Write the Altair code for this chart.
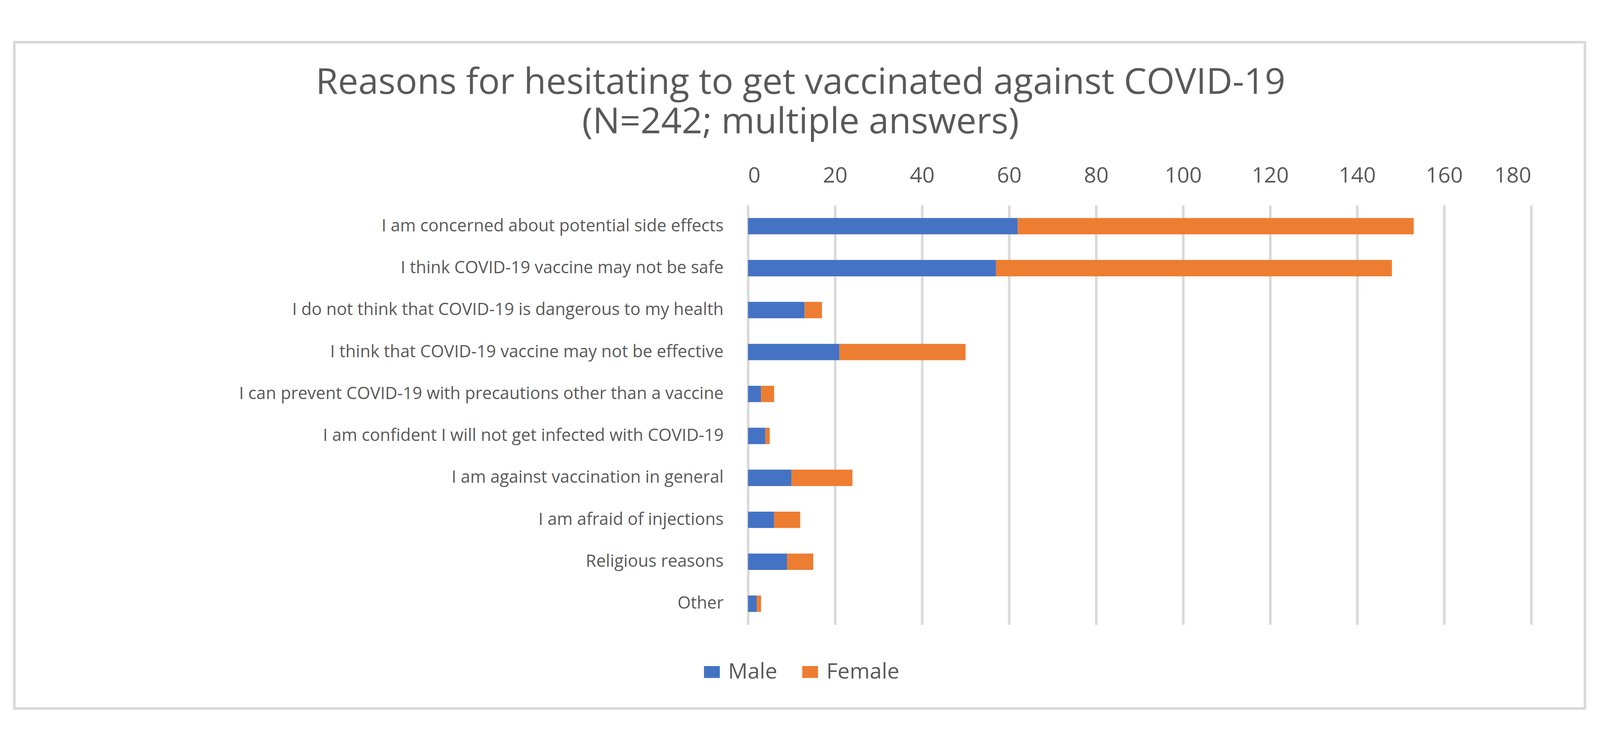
import altair as alt
import pandas as pd

reasons = [
    "I am concerned about potential side effects",
    "I think COVID-19 vaccine may not be safe",
    "I do not think that COVID-19 is dangerous to my health",
    "I think that COVID-19 vaccine may not be effective ",
    "I can prevent COVID-19 with precautions other than a vaccine",
    "I am confident I will not get infected with COVID-19",
    "I am against vaccination in general",
    "I am afraid of injections",
    "Religious reasons",
    "Other",
]
male = [62, 57, 13, 21, 3, 4, 10, 6, 9, 2]
female = [91, 91, 4, 29, 3, 1, 14, 6, 6, 1]
genders = ["Male", "Female"]
colors = ["#4472C4", "#ED7D31"]
x_ticks = [0, 20, 40, 60, 80, 100, 120, 140, 160, 180]

rows = []
for r, m, f in zip(reasons, male, female):
    rows.append({"reason": r, "gender": "Male", "count": m, "order": 0})
    rows.append({"reason": r, "gender": "Female", "count": f, "order": 1})
source = pd.DataFrame(rows)

text_color = "#595959"
grid_color = "#D9D9D9"

bars = (
    alt.Chart(source)
    .mark_bar()
    .encode(
        x=alt.X(
            "count:Q",
            stack="zero",
            scale=alt.Scale(domain=[0, 180], nice=False),
            axis=alt.Axis(
                orient="top", values=x_ticks, grid=True, gridColor=grid_color,
                gridWidth=7, domain=False, ticks=False, tickSize=0,
                labelFontSize=60, labelPadding=50, labelColor=text_color, title=None,
            ),
        ),
        y=alt.Y(
            "reason:N",
            sort=reasons,
            scale=alt.Scale(paddingInner=0.61, paddingOuter=0.305),
            axis=alt.Axis(
                domain=False, ticks=False, tickSize=0, labelFontSize=47,
                labelPadding=68, labelLimit=3000, labelColor=text_color, title=None,
            ),
        ),
        color=alt.Color(
            "gender:N",
            scale=alt.Scale(domain=genders, range=colors),
            legend=alt.Legend(
                orient="none", legendX=-130, legendY=1262, direction="horizontal",
                title=None, padding=0,
                symbolType="M-1.33,-1H1.33V1H-1.33Z", symbolSize=1089, symbolStrokeWidth=0,
                labelFontSize=60, labelColor=text_color, labelOffset=15,
                labelLimit=600, columnPadding=60,
            ),
        ),
        order=alt.Order("order:Q"),
    )
)

# light grey frame around the whole chart, as in the spreadsheet export
frame = (
    alt.Chart(pd.DataFrame({"k": [0]}))
    .mark_rect(fillOpacity=0, stroke=grid_color, strokeWidth=7)
    .encode(x=alt.value(-2032), x2=alt.value(2318), y=alt.value(-451), y2=alt.value(1393))
)

title = alt.TitleParams(
    ["Reasons for hesitating to get vaccinated against COVID-19", "(N=242; multiple answers)"],
    fontSize=100, fontWeight="normal", color=text_color, anchor="middle",
    dx=-939, offset=-377, baseline="bottom", lineHeight=110,
)

chart = (
    alt.layer(frame, bars)
    .properties(
        width=2169, height=1161, title=title,
        padding={"left": 2063, "top": 481, "right": 182, "bottom": 271},
        autosize=alt.AutoSizeParams(type="none"),
    )
    .configure(font="Open Sans", background="white")
    .configure_view(stroke=None)
)

chart.save("out.html", embed_options={"renderer": "svg", "actions": False})
